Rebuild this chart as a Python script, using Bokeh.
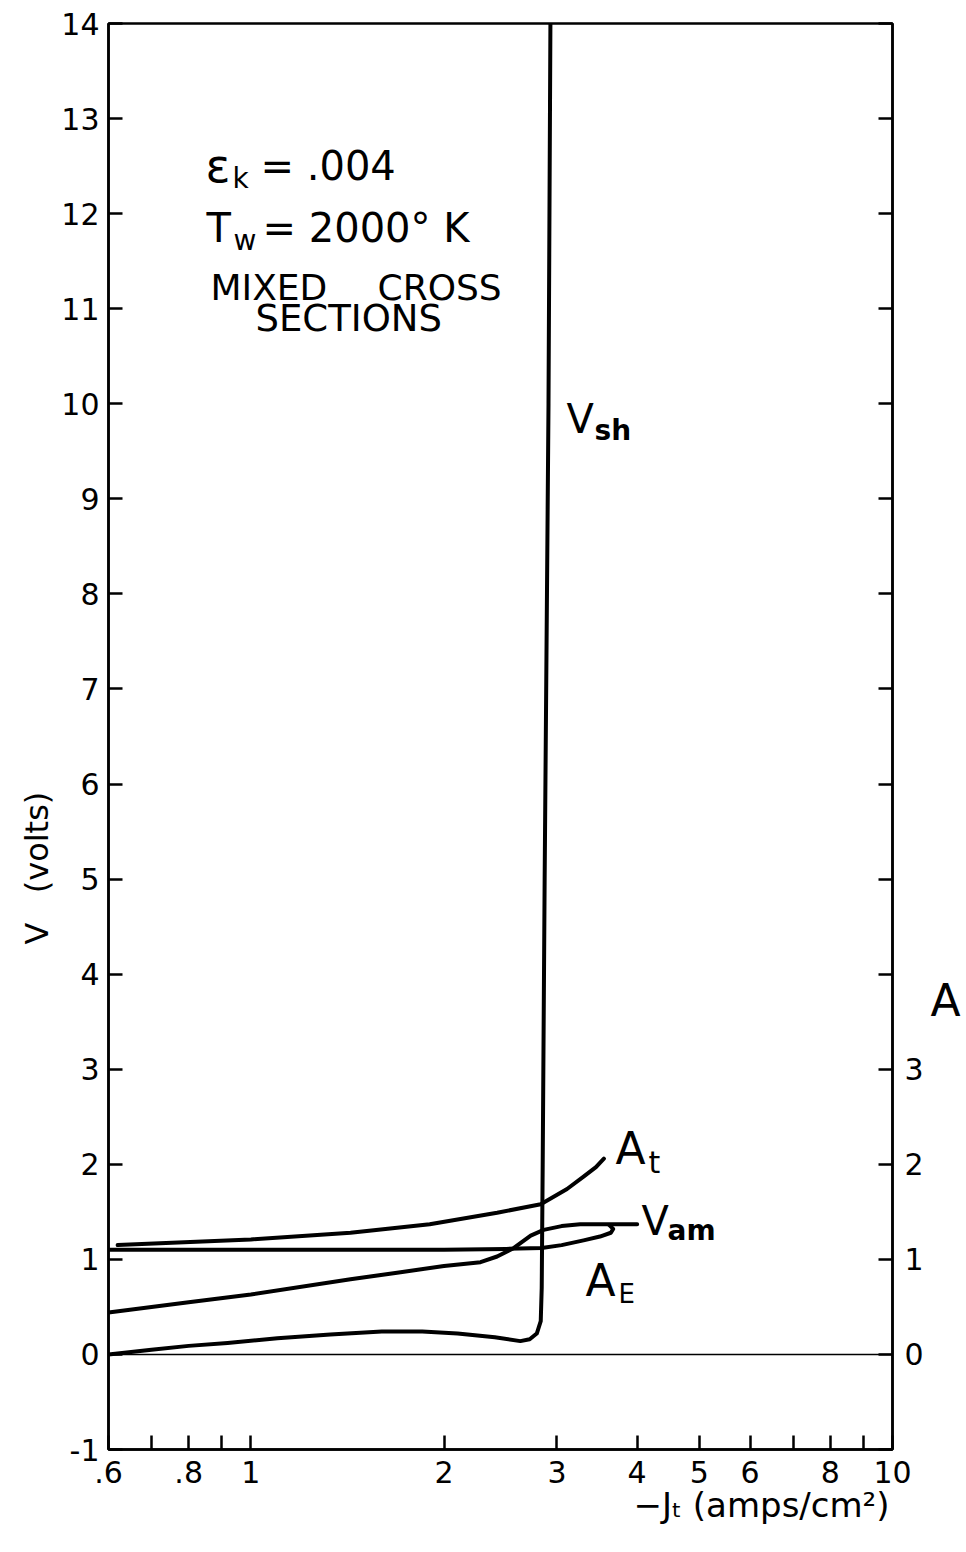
import math
from bokeh.plotting import figure
from bokeh.models import Range1d, FixedTicker, LinearAxis, LogAxis, Span, Label
from bokeh.embed import file_html
from bokeh.resources import INLINE

# ---------------- data ----------------
# V_sh : sheath voltage
vsh_x = [0.60, 0.70, 0.80, 0.92, 1.10, 1.33, 1.60, 1.85, 2.10, 2.40, 2.63, 2.72, 2.79, 2.83, 2.84, 2.85, 2.87, 2.91, 2.93]
vsh_y = [0.00, 0.05, 0.09, 0.12, 0.17, 0.21, 0.24, 0.24, 0.22, 0.18, 0.14, 0.16, 0.22, 0.35, 0.70, 2.00, 5.00, 10.0, 14.0]
# V_am
vam_x = [0.60, 0.80, 1.00, 1.43, 1.69, 2.00, 2.28, 2.42, 2.57, 2.73, 2.86, 3.05, 3.26, 3.60, 4.00]
vam_y = [0.44, 0.55, 0.63, 0.79, 0.86, 0.93, 0.97, 1.03, 1.12, 1.25, 1.31, 1.35, 1.37, 1.37, 1.37]
# A_E
ae_x = [0.60, 1.00, 1.50, 2.00, 2.50, 2.84, 3.05, 3.30, 3.50, 3.64, 3.67, 3.62]
ae_y = [1.10, 1.10, 1.10, 1.10, 1.11, 1.12, 1.15, 1.20, 1.24, 1.28, 1.32, 1.36]
# A_t
at_x = [0.62, 1.00, 1.43, 1.90, 2.42, 2.83, 3.11, 3.30, 3.45, 3.55]
at_y = [1.15, 1.21, 1.28, 1.37, 1.49, 1.58, 1.74, 1.87, 1.97, 2.06]

x_ticks = [0.6, 0.7, 0.8, 0.9, 1, 2, 3, 4, 5, 6, 7, 8, 9, 10]
x_tick_labels = [".6", "", ".8", "", "1", "2", "3", "4", "5", "6", "", "8", "", "10"]
y_ticks = list(range(-1, 15))
y_tick_labels = ["-1"] + [str(i) for i in range(0, 15)]
a_ticks = list(range(-1, 15))
a_tick_labels = ["", "0", "1", "2", "3"] + [""] * 11

x_title = "−Jₜ (amps/cm²)"
y_title_parts = ["V", "(volts)"]
a_title = "A"

FONT = "DejaVu Sans"

# ---------------- figure ----------------
FW, FH = 784, 1426
p = figure(frame_width=FW, frame_height=FH,
           x_axis_type="log", x_range=Range1d(0.6, 10), y_range=Range1d(-1, 14),
           output_backend="svg", toolbar_location=None,
           min_border_left=108, min_border_right=58, min_border_top=23, min_border_bottom=87)
p.xgrid.visible = False
p.ygrid.visible = False
p.outline_line_color = "black"
p.outline_line_width = 2.5
p.background_fill_color = "white"
p.border_fill_color = "white"

def style_axis(ax, ticks, labels, standoff, size="30px"):
    ax.ticker = FixedTicker(ticks=ticks)
    ax.major_label_overrides = {t: l for t, l in zip(ticks, labels)}
    ax.major_tick_in = 14
    ax.major_tick_out = 0
    ax.major_tick_line_width = 2.5
    ax.major_tick_line_color = "black"
    ax.minor_tick_line_color = None
    ax.axis_line_width = 2.5
    ax.axis_line_color = "black"
    ax.major_label_text_font = FONT
    ax.major_label_text_font_size = size
    ax.major_label_text_color = "black"
    ax.major_label_standoff = standoff

def title_axis(ax, ticks, labels, standoff, size):
    style_axis(ax, ticks, labels, standoff, size)
    ax.major_tick_line_color = None
    ax.axis_line_color = None

style_axis(p.xaxis[0], x_ticks, x_tick_labels, 11)
style_axis(p.yaxis[0], y_ticks, y_tick_labels, 9)

right = LinearAxis()
style_axis(right, a_ticks, a_tick_labels, 12)
p.add_layout(right, "right")

# page-pixel helpers for text placement
PX_DEC = FW / math.log10(10 / 0.6)
def dx(px):
    return 0.6 * 10 ** ((px - 108) / PX_DEC)
def dy(py):
    return 14 - (py - 23) * 15 / FH

# axis titles drawn as extra, line-less axes so they sit outside the frame
a_axis = LinearAxis()
title_axis(a_axis, [round(dy(1000), 3)], [a_title], 4, "44px")
p.add_layout(a_axis, "right")

y_axis2 = LinearAxis()
title_axis(y_axis2, [round(dy(933), 3), round(dy(842), 3)], y_title_parts, 2, "32px")
y_axis2.major_label_orientation = "vertical"
p.add_layout(y_axis2, "left")

x_axis2 = LogAxis()
title_axis(x_axis2, [round(dx(761), 4)], [x_title], -1, "34px")
p.add_layout(x_axis2, "below")

p.add_layout(Span(location=0, dimension="width", line_color="black", line_width=1.5))

for xs, ys in [(vsh_x, vsh_y), (vam_x, vam_y), (ae_x, ae_y), (at_x, at_y)]:
    p.line(xs, ys, line_color="black", line_width=4, line_cap="round", line_join="round")

def lab(text, px, py, size, bold=False):
    p.add_layout(Label(x=dx(px), y=dy(py), text=text, text_font=FONT,
                       text_font_size=f"{size}px", text_color="black",
                       text_font_style="bold" if bold else "normal",
                       text_align="left", text_baseline="alphabetic"))

# parameter block
lab("ε", 205, 165, 46)
lab("k", 232, 178, 28)
lab("= .004", 260, 165, 40)
lab("T", 206, 227, 40)
lab("w", 233, 240, 28)
lab("= 2000° K", 262, 227, 40)
lab("MIXED", 210, 287, 36)
lab("CROSS", 377, 287, 36)
lab("SECTIONS", 255, 318, 37)

# curve labels
lab("V", 566, 418, 40)
lab("sh", 594, 430, 28, bold=True)
lab("A", 615, 1148, 44)
lab("t", 648, 1162, 30)
lab("V", 641, 1220, 40)
lab("am", 667, 1230, 28, bold=True)
lab("A", 585, 1280, 44)
lab("E", 618, 1293, 26)

open("out.html", "w").write(file_html(p, INLINE))
